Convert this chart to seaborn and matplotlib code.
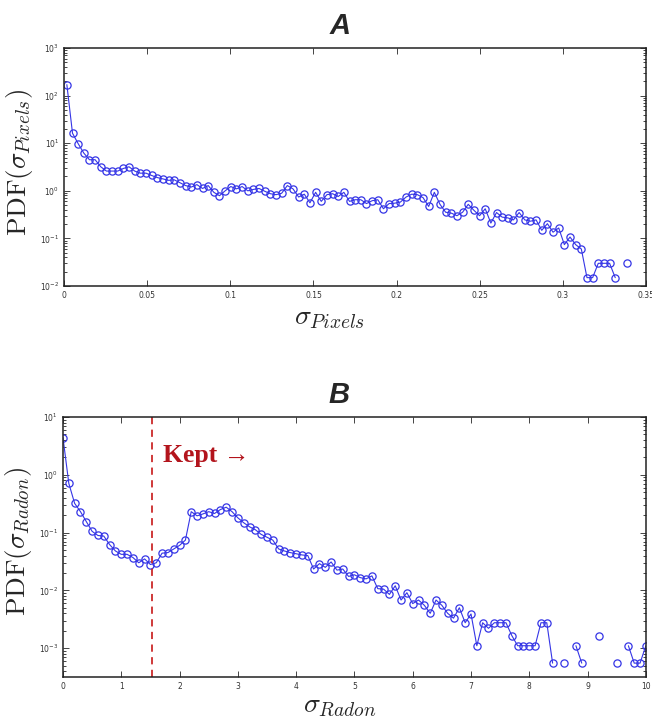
import numpy as np
import pandas as pd
import matplotlib
matplotlib.use('Agg')
import matplotlib.pyplot as plt
import matplotlib.ticker as mticker
import seaborn as sns

# panel A: PDF of sigma over pixels (100 bins, 0 .. 0.34)
pix_x = (np.arange(100) + 0.5) * 0.0034
pix_pdf = [170, 16.2, 9.8, 6.2, 4.5, 4.5, 3.2, 2.6, 2.6, 2.6,
           2.95, 3.2, 2.6, 2.35, 2.35, 2.1, 1.9, 1.78, 1.66, 1.7,
           1.48, 1.29, 1.2, 1.35, 1.12, 1.29, 0.93, 0.79, 1.0, 1.23,
           1.1, 1.23, 1.0, 1.07, 1.12, 0.98, 0.87, 0.83, 0.89, 1.29,
           1.1, 0.74, 0.85, 0.56, 0.93, 0.6, 0.83, 0.87, 0.76, 0.93,
           0.6, 0.65, 0.65, 0.54, 0.62, 0.65, 0.42, 0.54, 0.55, 0.58,
           0.74, 0.85, 0.83, 0.72, 0.47, 0.93, 0.52, 0.355, 0.34, 0.3,
           0.355, 0.52, 0.39, 0.3, 0.42, 0.21, 0.35, 0.28, 0.27, 0.245,
           0.35, 0.245, 0.23, 0.245, 0.148, 0.204, 0.135, 0.166, 0.074, 0.107,
           0.074, 0.06, 0.015, 0.015, 0.03, 0.03, 0.03, 0.015, np.nan, 0.03]

# panel B: PDF of sigma in Radon space (0 .. 10, step 0.1)
rad_x = np.arange(101) * 0.1
rad_pdf = [4.4, 0.71, 0.32, 0.23, 0.155, 0.105, 0.089, 0.087, 0.062, 0.048,
           0.042, 0.042, 0.037, 0.030, 0.035, 0.028, 0.030, 0.044, 0.045, 0.052,
           0.060, 0.074, 0.23, 0.195, 0.21, 0.23, 0.214, 0.25, 0.275, 0.23,
           0.18, 0.148, 0.126, 0.112, 0.093, 0.083, 0.074, 0.052, 0.048, 0.045,
           0.043, 0.041, 0.040, 0.0234, 0.029, 0.025, 0.031, 0.0224, 0.0234, 0.0174,
           0.0186, 0.0166, 0.0158, 0.0178, 0.0107, 0.0105, 0.0085, 0.012, 0.0068, 0.0091,
           0.0059, 0.0068, 0.0055, 0.0040, 0.0068, 0.0055, 0.0040, 0.0033, 0.0050, 0.00275,
           0.0039, 0.0011, 0.00275, 0.0022, 0.00275, 0.00275, 0.00275, 0.00165, 0.0011, 0.0011,
           0.0011, 0.0011, 0.00275, 0.00275, 0.00055, np.nan, 0.00055, np.nan, 0.0011, 0.00055,
           np.nan, np.nan, 0.00165, np.nan, np.nan, 0.00055, np.nan, 0.0011, 0.00055, 0.00055,
           0.0011]

cut = 1.52
BLUE = '#3535e6'

sns.set_style('ticks')
plt.rcParams['mathtext.fontset'] = 'cm'
plt.rcParams['font.family'] = ['DejaVu Sans']


def draw(ax, x, y):
    df = pd.DataFrame({'x': x, 'y': y})
    # break the line where a bin is empty
    df['seg'] = df['y'].isna().cumsum()
    df = df.dropna()
    sns.lineplot(data=df, x='x', y='y', units='seg', estimator=None, ax=ax,
                 color=BLUE, lw=0.8, marker='o', ms=5.2, mfc='none',
                 mec=BLUE, mew=0.9, legend=False)
    ax.set_yscale('log')
    ax.tick_params(which='both', direction='in', top=True, right=True,
                   labelsize=5.5, labelcolor='#333333', width=0.6)
    ax.tick_params(which='major', length=4)
    ax.tick_params(which='minor', length=2)
    ax.xaxis.set_minor_locator(mticker.NullLocator())
    for s in ax.spines.values():
        s.set_linewidth(1.1)
        s.set_color('#222222')


fig = plt.figure(figsize=(6.52, 7.19), dpi=100)
ax1 = fig.add_axes([0.0982, 0.6022, 0.8926, 0.331])
ax2 = fig.add_axes([0.0966, 0.0584, 0.894, 0.3616])

draw(ax1, pix_x, pix_pdf)
ax1.set_xlim(0, 0.35)
ax1.set_ylim(1e-2, 1e3)
ax1.xaxis.set_major_locator(mticker.MultipleLocator(0.05))
ax1.xaxis.set_major_formatter(mticker.FuncFormatter(lambda v, p: '%g' % round(v, 3)))
ax1.set_xlabel(r'$\sigma_{Pixels}$', fontsize=20)
ax1.xaxis.set_label_coords(0.457, -0.071)
ax1.set_ylabel(r'$\mathrm{PDF}(\sigma_{Pixels})$', fontsize=19.5)
ax1.yaxis.set_label_coords(-0.05, 0.52)
ax1.text(0.474, 1.092, 'A', transform=ax1.transAxes, ha='center', va='center',
         fontsize=21, fontweight='bold', fontstyle='italic', family='Liberation Sans')

draw(ax2, rad_x, rad_pdf)
ax2.set_xlim(0, 10)
ax2.set_ylim(10 ** -3.5, 10)
ax2.xaxis.set_major_locator(mticker.MultipleLocator(1))
ax2.axvline(cut, color='#cc2a2a', lw=1.3, ls=(0, (4, 3)))
ax2.text(1.715, 2.2, 'Kept →', ha='left', va='center', fontsize=18.5,
         fontweight='bold', color='#b3141c', family=['Liberation Serif', 'DejaVu Serif'])
ax2.set_xlabel(r'$\sigma_{Radon}$', fontsize=20)
ax2.xaxis.set_label_coords(0.475, -0.055)
ax2.set_ylabel(r'$\mathrm{PDF}(\sigma_{Radon})$', fontsize=19.5)
ax2.yaxis.set_label_coords(-0.05, 0.52)
ax2.text(0.474, 1.085, 'B', transform=ax2.transAxes, ha='center', va='center',
         fontsize=21, fontweight='bold', fontstyle='italic', family='Liberation Sans')

fig.savefig('out.png', dpi=100)
